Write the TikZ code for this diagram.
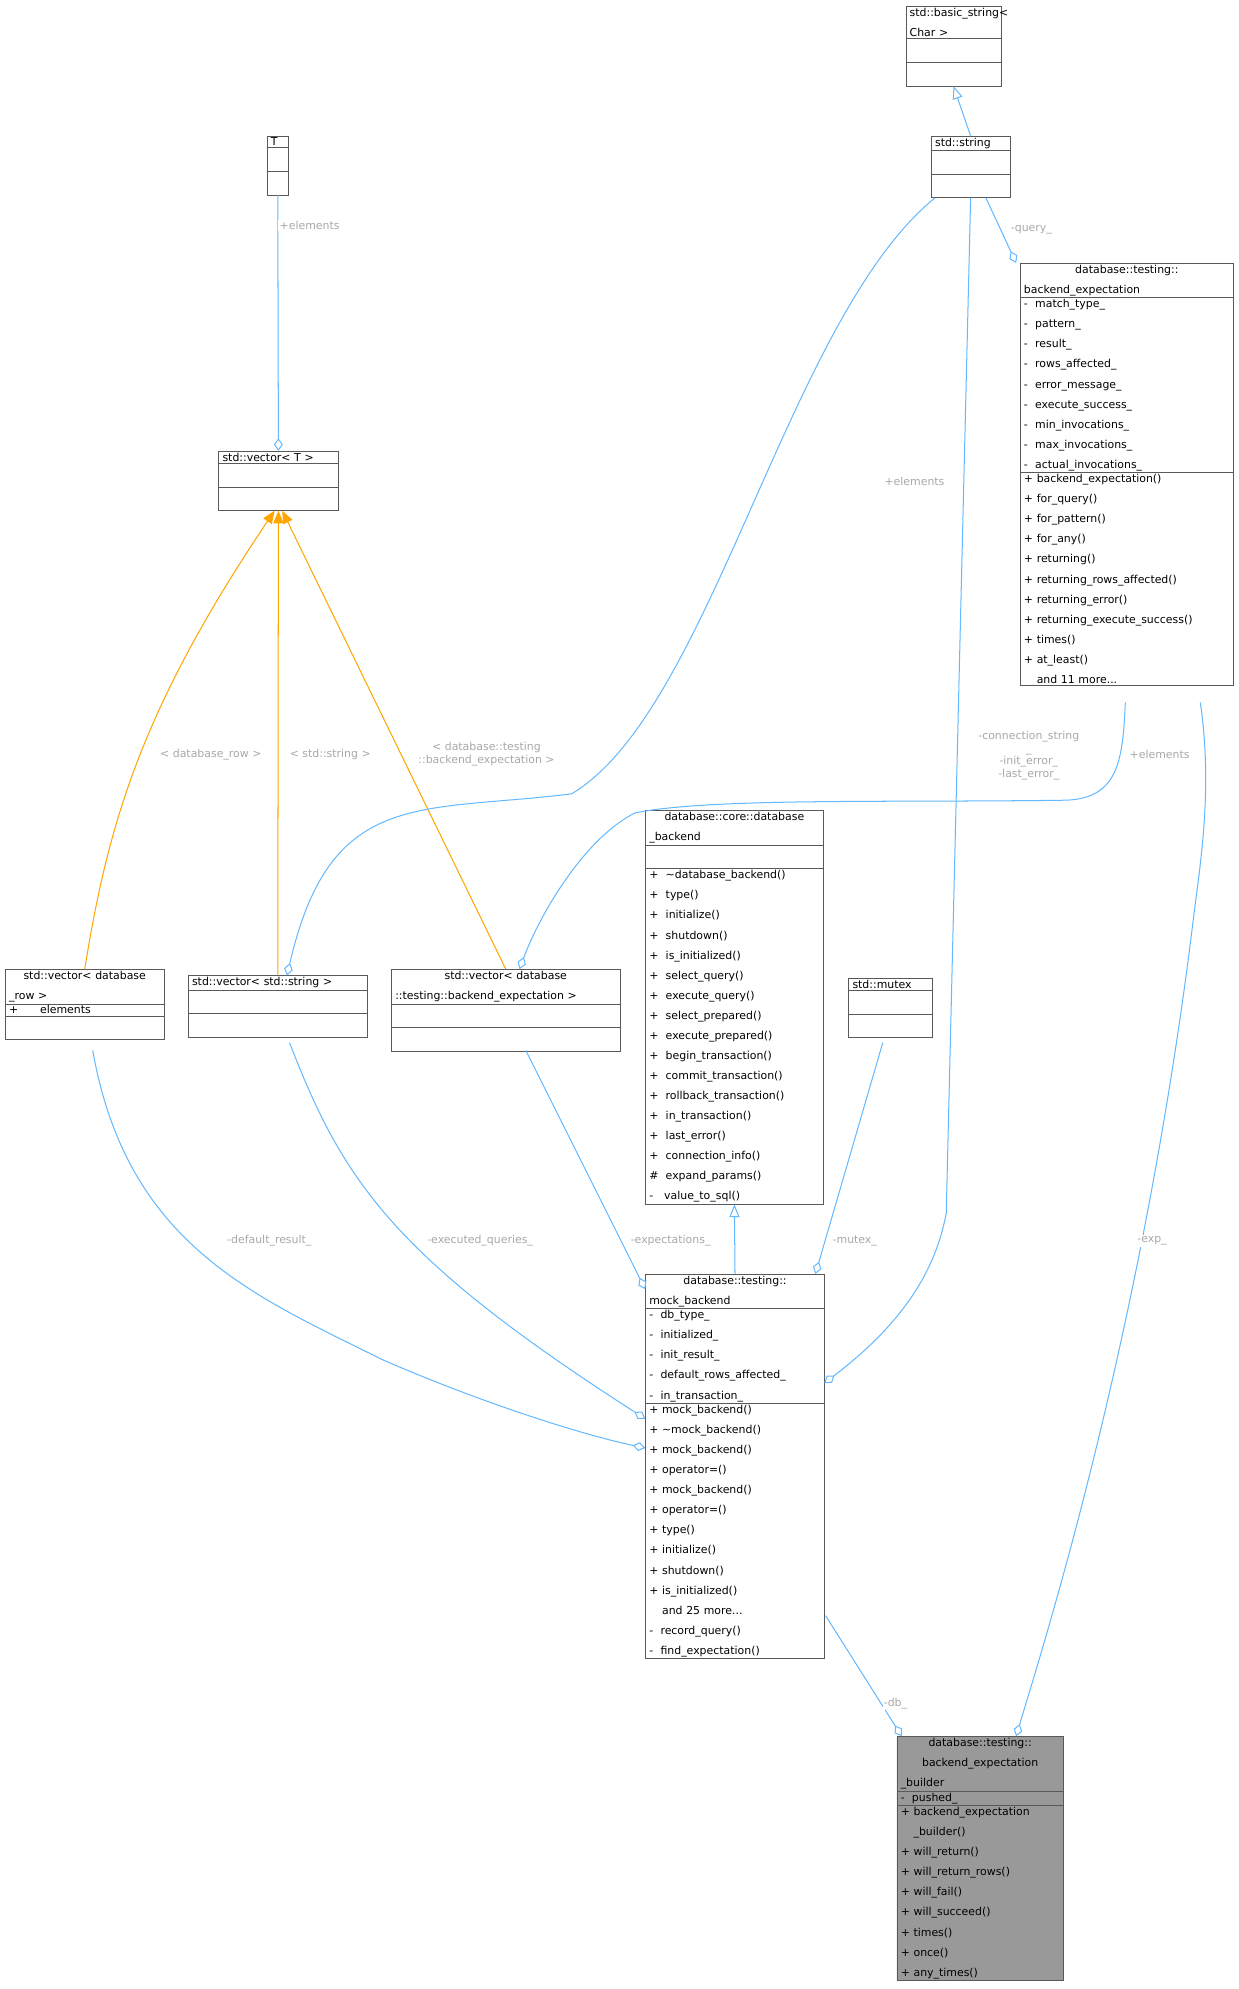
\documentclass[tikz,border=0pt]{standalone}
\usepackage{fontspec}
\setmainfont{DejaVu Sans}
\usetikzlibrary{shapes.multipart,arrows.meta}
\definecolor{eblue}{HTML}{63B8FF}
\definecolor{eorange}{HTML}{FFA500}
\definecolor{lbl}{HTML}{A8A8A8}
\begin{document}
\begin{tikzpicture}[x=1pt,y=-1pt,
  cls/.style={draw=black!65,rectangle split,rectangle split parts=3,anchor=north west,
    font=\fontsize{8.6}{15.8}\selectfont,align=left,inner xsep=3pt,inner ysep=1.2pt,fill=white},
  e/.style={eblue,line width=0.8pt},
  agg/.style={e,-{Diamond[open,length=10pt,width=7pt]}},
  inh/.style={e,-{Triangle[open,length=10pt,width=8pt]}},
  tmpl/.style={eorange,line width=0.8pt,-{Triangle[length=10pt,width=8pt]}},
  lab/.style={text=lbl,font=\fontsize{8.6}{10}\selectfont,align=center,fill=white,inner sep=1pt}]
\useasboundingbox (0,0) rectangle (975,1566);
\newcommand{\cw}[1]{text width=#1-6pt}

\node[cls,text width=69pt] (bs) at (713,5) {\centering std::basic\_string\textless\\Char \textgreater\nodepart{second}\strut\nodepart{third}\strut};
\node[cls,text width=56pt] (str) at (733,107) {\centering std::string\nodepart{second}\strut\nodepart{third}\strut};
\node[cls,text width=11pt] (T) at (210,107) {\centering T\nodepart{second}\strut\nodepart{third}\strut};
\node[cls,text width=88pt] (vt) at (172,355) {\centering std::vector\textless{} T \textgreater\nodepart{second}\strut\nodepart{third}\strut};
\node[cls,text width=162pt] (be) at (803,207) {\centering database::testing::\\backend\_expectation\nodepart{second}-~~match\_type\_\\-~~pattern\_\\-~~result\_\\-~~rows\_affected\_\\-~~error\_message\_\\-~~execute\_success\_\\-~~min\_invocations\_\\-~~max\_invocations\_\\-~~actual\_invocations\_\nodepart{third}+ backend\_expectation()\\+ for\_query()\\+ for\_pattern()\\+ for\_any()\\+ returning()\\+ returning\_rows\_affected()\\+ returning\_error()\\+ returning\_execute\_success()\\+ times()\\+ at\_least()\\\phantom{+} and 11 more...};
\node[cls,text width=119pt] (vr) at (4,763) {\centering std::vector\textless{} database\\\_row \textgreater\nodepart{second}+~~~~~~elements\nodepart{third}\strut};
\node[cls,text width=135pt] (vs) at (148,768) {\centering std::vector\textless{} std::string \textgreater\nodepart{second}\strut\nodepart{third}\strut};
\node[cls,text width=174pt] (vb) at (308,763) {\centering std::vector\textless{} database\\::testing::backend\_expectation \textgreater\nodepart{second}\strut\nodepart{third}\strut};
\node[cls,text width=134pt] (db) at (508,638) {\centering database::core::database\\\_backend\nodepart{second}\strut\nodepart{third}+~~\textasciitilde database\_backend()\\+~~type()\\+~~initialize()\\+~~shutdown()\\+~~is\_initialized()\\+~~select\_query()\\+~~execute\_query()\\+~~select\_prepared()\\+~~execute\_prepared()\\+~~begin\_transaction()\\+~~commit\_transaction()\\+~~rollback\_transaction()\\+~~in\_transaction()\\+~~last\_error()\\+~~connection\_info()\\\#~~expand\_params()\\-~~~value\_to\_sql()};
\node[cls,text width=60pt] (mx) at (668,770) {\centering std::mutex\nodepart{second}\strut\nodepart{third}\strut};
\node[cls,text width=135pt] (mb) at (508,1003) {\centering database::testing::\\mock\_backend\nodepart{second}-~~db\_type\_\\-~~initialized\_\\-~~init\_result\_\\-~~default\_rows\_affected\_\\-~~in\_transaction\_\nodepart{third}+ mock\_backend()\\+ \textasciitilde mock\_backend()\\+ mock\_backend()\\+ operator=()\\+ mock\_backend()\\+ operator=()\\+ type()\\+ initialize()\\+ shutdown()\\+ is\_initialized()\\\phantom{+} and 25 more...\\-~~record\_query()\\-~~find\_expectation()};
\node[cls,text width=125pt,fill=black!40] (bb) at (706,1367) {\centering database::testing::\\backend\_expectation\\\_builder\nodepart{second}-~~pushed\_\nodepart{third}+ backend\_expectation\\\phantom{+ }\_builder()\\+ will\_return()\\+ will\_return\_rows()\\+ will\_fail()\\+ will\_succeed()\\+ times()\\+ once()\\+ any\_times()};

% edges
\draw[inh] (str.north) -- (bs.south);
\draw[agg] (T.south) -- node[lab,pos=0.12,right]{+elements} (vt.north);
\draw[tmpl] (vr.north) .. controls (85,650) and (110,560) .. ([xshift=-3pt]vt.south);
\node[lab] at (166,594) {\textless{} database\_row \textgreater};
\draw[tmpl] (vs.north) -- (vt.south);
\node[lab] at (260,594) {\textless{} std::string \textgreater};
\draw[tmpl] (vb.north) -- ([xshift=3pt]vt.south);
\node[lab] at (383,594) {\textless{} database::testing\\::backend\_expectation \textgreater};
\draw[agg] ([xshift=-28pt]str.south) .. controls (620,250) and (560,560) .. (450,625) .. controls (330,640) and (260,620) .. (226,768);
\node[lab] at (720,379) {+elements};
\draw[agg] ([xshift=12pt]str.south) -- (800,207);
\node[lab] at (812,181) {-query\_};
\draw[agg] (str.south) -- (745,955) .. controls (735,1010) and (700,1050) .. (649,1089);
\node[lab] at (810,595) {-connection\_string\\\_\\-init\_error\_\\-last\_error\_};
\draw[agg] (886,553) .. controls (884,600) and (880,628) .. (840,630) .. controls (700,632) and (560,628) .. (500,640) .. controls (460,660) and (425,720) .. (409,763);
\node[lab] at (913,594) {+elements};
\draw[agg] (945,553) .. controls (955,620) and (945,680) .. (940,720) .. controls (900,1050) and (820,1300) .. (800,1367);
\node[lab] at (907,977) {-exp\_};
\draw[agg] (73,827) .. controls (100,980) and (200,1020) .. (300,1070) .. controls (380,1105) and (460,1130) .. (508,1140);
\node[lab] at (212,977) {-default\_result\_};
\draw[agg] (228,821) .. controls (270,930) and (310,990) .. (508,1117);
\node[lab] at (378,977) {-executed\_queries\_};
\draw[agg] (414,827) -- (508,1015);
\node[lab] at (528,977) {-expectations\_};
\draw[inh] (mb.north) -- (db.south);
\draw[agg] (695,821) -- (642,1003);
\node[lab] at (673,977) {-mutex\_};
\draw[agg] (650,1272) -- (710,1367);
\node[lab] at (705,1341) {-db\_};
\end{tikzpicture}
\end{document}
